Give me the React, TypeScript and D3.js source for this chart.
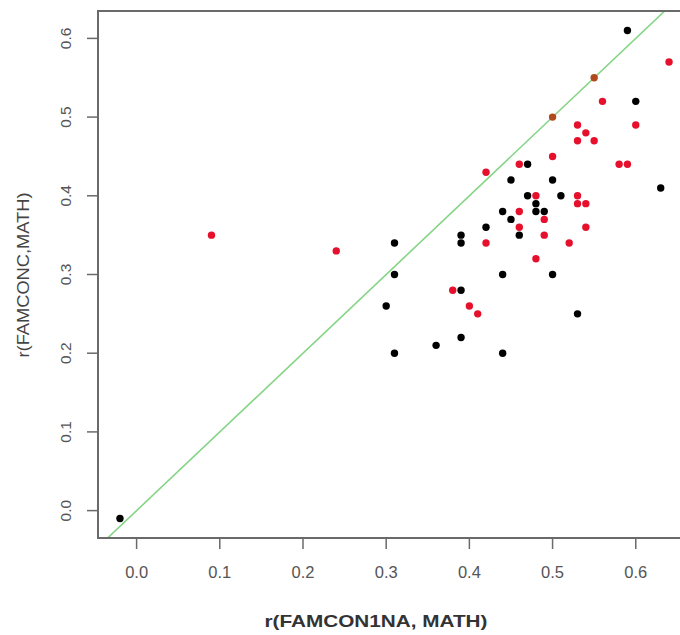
import React from 'react';
import { scaleLinear, extent, format } from 'd3';

const width = 680;
const height = 635;
const plot = { left: 98, top: 11, right: 691, bottom: 538 };

// r(FAMCON1NA, MATH) vs r(FAMCONC, MATH)
const blackX = [0.59, 0.60, 0.47, 0.45, 0.50, 0.63, 0.47, 0.51, 0.48, 0.48, 0.49, 0.44, 0.45, 0.42, 0.46, 0.39, 0.39, 0.31, 0.31, 0.44, 0.50, 0.39, 0.30, 0.53, 0.31, 0.36, 0.39, 0.44, -0.02];
const blackY = [0.61, 0.52, 0.44, 0.42, 0.42, 0.41, 0.40, 0.40, 0.39, 0.38, 0.38, 0.38, 0.37, 0.36, 0.35, 0.35, 0.34, 0.34, 0.30, 0.30, 0.30, 0.28, 0.26, 0.25, 0.20, 0.21, 0.22, 0.20, -0.01];
const redX = [0.64, 0.56, 0.53, 0.60, 0.54, 0.53, 0.55, 0.50, 0.46, 0.58, 0.59, 0.42, 0.48, 0.53, 0.53, 0.54, 0.46, 0.49, 0.46, 0.54, 0.49, 0.42, 0.52, 0.24, 0.09, 0.48, 0.38, 0.40, 0.41];
const redY = [0.57, 0.52, 0.49, 0.49, 0.48, 0.47, 0.47, 0.45, 0.44, 0.44, 0.44, 0.43, 0.40, 0.40, 0.39, 0.39, 0.38, 0.37, 0.36, 0.36, 0.35, 0.34, 0.34, 0.33, 0.35, 0.32, 0.28, 0.26, 0.25];
const brownX = [0.50, 0.55];
const brownY = [0.50, 0.55];

const xTicks = [0, 0.1, 0.2, 0.3, 0.4, 0.5, 0.6];
const yTicks = [0, 0.1, 0.2, 0.3, 0.4, 0.5, 0.6];

const pad = (ext) => {
  const r = ext[1] - ext[0];
  return [ext[0] - 0.04 * r, ext[1] + 0.04 * r];
};

export default function App() {
  const allX = [...blackX, ...redX, ...brownX];
  const allY = [...blackY, ...redY, ...brownY];
  const xScale = scaleLinear().domain(pad(extent(allX))).range([plot.left, plot.right]);
  const yScale = scaleLinear().domain(pad(extent(allY))).range([plot.bottom, plot.top]);
  const fmt = format('.1f');
  const [x0, x1] = xScale.domain();

  const series = [
    { xs: blackX, ys: blackY, color: '#000000' },
    { xs: redX, ys: redY, color: '#e6102c' },
    { xs: brownX, ys: brownY, color: '#b04a1e' },
  ];

  return (
    <svg width={width} height={height} style={{ position: 'absolute', left: 0, top: 0, background: '#fff' }}
      fontFamily="'Liberation Sans', Arial, sans-serif">
      <defs>
        <clipPath id="plotclip">
          <rect x={plot.left} y={plot.top} width={plot.right - plot.left} height={plot.bottom - plot.top} />
        </clipPath>
      </defs>

      {/* y = x reference line */}
      <line clipPath="url(#plotclip)" x1={xScale(x0)} y1={yScale(x0)} x2={xScale(x1)} y2={yScale(x1)}
        stroke="#86d486" strokeWidth={1.6} />

      {series.map((s, si) => s.xs.map((v, i) => (
        <circle key={si + '-' + i} cx={xScale(v)} cy={yScale(s.ys[i])} r={3.7} fill={s.color} />
      )))}

      <rect x={plot.left} y={plot.top} width={plot.right - plot.left} height={plot.bottom - plot.top}
        fill="none" stroke="#6a6a6a" strokeWidth={2} />

      {xTicks.map(t => (
        <g key={'x' + t}>
          <line x1={xScale(t)} x2={xScale(t)} y1={plot.bottom} y2={plot.bottom + 11} stroke="#6a6a6a" strokeWidth={1.5} />
          <text x={xScale(t)} y={578} textAnchor="middle" fontSize={16.5} fill="#555">{fmt(t)}</text>
        </g>
      ))}
      {yTicks.map(t => (
        <g key={'y' + t}>
          <line x1={plot.left - 11} x2={plot.left} y1={yScale(t)} y2={yScale(t)} stroke="#6a6a6a" strokeWidth={1.5} />
          <text transform={`translate(71,${yScale(t)}) rotate(-90)`} textAnchor="middle" fontSize={15.5} fill="#555">{fmt(t)}</text>
        </g>
      ))}

      <text x={376} y={627} textAnchor="middle" fontSize={17} fontWeight="bold" fill="#333"
        textLength={223} lengthAdjust="spacingAndGlyphs">r(FAMCON1NA, MATH)</text>
      <text transform="translate(29,275) rotate(-90)" textAnchor="middle" fontSize={16} fill="#444"
        textLength={165} lengthAdjust="spacingAndGlyphs">r(FAMCONC,MATH)</text>
    </svg>
  );
}
